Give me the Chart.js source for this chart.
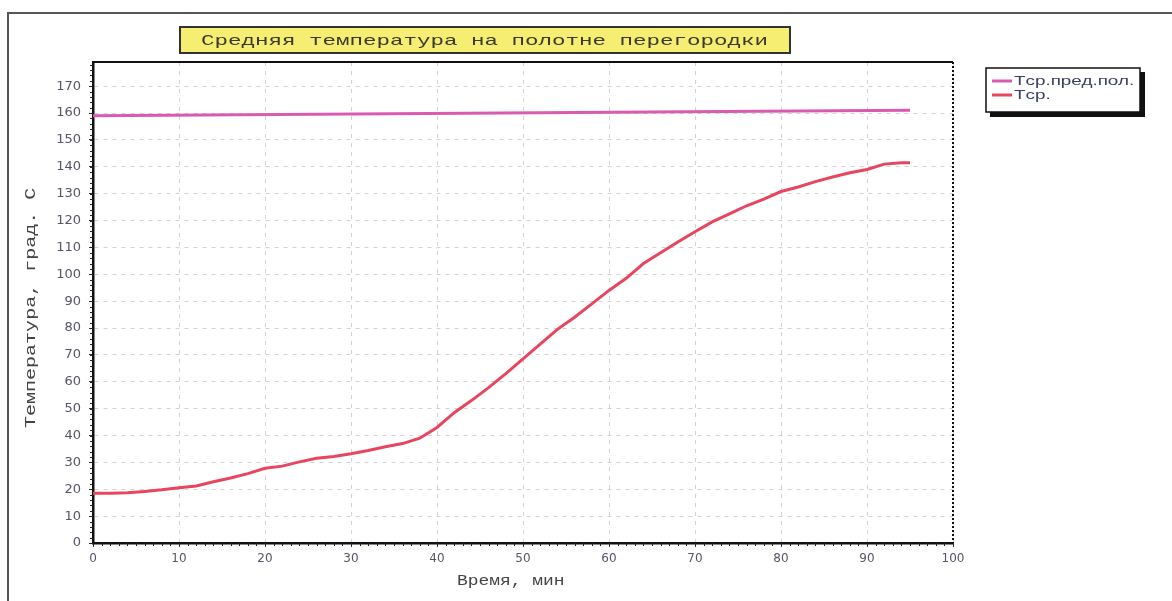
<!DOCTYPE html>
<html>
<head>
<meta charset="utf-8">
<script src="https://cdn.jsdelivr.net/npm/chart.js@4/dist/chart.umd.min.js"></script>
<style>
html, body { margin: 0; padding: 0; background: #fff; }
#wrap { width: 1172px; height: 601px; position: relative; }
</style>
</head>
<body>
<div id="wrap"><canvas id="myChart" width="1172" height="601"></canvas></div>
<script>
// время, мин
const timeLimit = [0, 95];
const tempLimit = [159, 161];

const timeAvg = [0, 2, 4, 6, 8, 10, 12, 14, 16, 18, 20, 22, 24, 26, 28, 30, 32, 34, 36, 38,
    40, 42, 44, 46, 48, 50, 52, 54, 56, 58, 60, 62, 64, 66, 68, 70, 72, 74, 76, 78,
    80, 82, 84, 86, 88, 90, 92, 94, 95];
const tempAvg = [18.5, 18.5, 18.7, 19.2, 19.8, 20.6, 21.2, 22.8, 24.2, 25.8, 27.8, 28.6, 30.2, 31.5, 32.2, 33.2, 34.4, 35.8, 37.0, 39.0,
    43.0, 48.5, 53.0, 57.8, 63.0, 68.5, 74.0, 79.5, 84.0, 89.0, 94.0, 98.5, 104.0, 108.0, 112.0, 115.8, 119.5, 122.5, 125.5, 128.0,
    130.8, 132.5, 134.5, 136.2, 137.8, 139.0, 141.0, 141.5, 141.5];

const seriesNames = ['Tср.пред.пол.', 'Tср.'];
const chartTitle = 'Средняя температура на полотне перегородки';
const xTitle = 'Время, мин';
const yTitle = 'Температура, град. С';

const pink = '#d95bb0';
const red = '#e8465e';

function pts(xs, ys) {
    return xs.map((x, i) => ({x: x, y: ys[i]}));
}

function stretchText(ctx, text, x, y, sx) {
    ctx.save();
    ctx.translate(x, y);
    ctx.scale(sx, 1);
    ctx.fillText(text, 0, 0);
    ctx.restore();
}

const decor = {
    id: 'decor',
    beforeDraw(chart) {
        const c = chart.ctx;
        c.save();
        c.fillStyle = '#fff';
        c.fillRect(0, 0, chart.width, chart.height);
        // outer frame
        c.strokeStyle = '#555';
        c.lineWidth = 2;
        c.beginPath();
        c.moveTo(8, 601);
        c.lineTo(8, 13);
        c.lineTo(1172, 13);
        c.stroke();
        c.restore();
    },
    afterDraw(chart) {
        const c = chart.ctx;
        const a = chart.chartArea;
        const xs = chart.scales.x, ys = chart.scales.y;
        c.save();
        // top border and dotted right border
        c.strokeStyle = '#111';
        c.lineWidth = 2;
        c.beginPath();
        c.moveTo(a.left, a.top);
        c.lineTo(a.right, a.top);
        c.stroke();
        c.setLineDash([2, 2]);
        c.beginPath();
        c.moveTo(a.right, a.top);
        c.lineTo(a.right, a.bottom);
        c.stroke();
        c.setLineDash([]);
        // minor ticks
        c.lineWidth = 1;
        c.strokeStyle = '#222';
        c.beginPath();
        for (let v = 0; v <= 100; v++) {
            const px = Math.round(xs.getPixelForValue(v)) + 0.5;
            c.moveTo(px, a.bottom);
            c.lineTo(px, a.bottom + 3);
        }
        for (let v = 0; v <= 178; v += 2) {
            const py = Math.round(ys.getPixelForValue(v)) + 0.5;
            c.moveTo(a.left - 3, py);
            c.lineTo(a.left, py);
        }
        c.stroke();

        // title box
        c.fillStyle = '#f6ee72';
        c.fillRect(180, 27, 610, 26);
        c.strokeStyle = '#333';
        c.lineWidth = 2;
        c.strokeRect(180, 27, 610, 26);
        c.fillStyle = '#3a3a2a';
        c.font = '15px "Liberation Mono"';
        c.textBaseline = 'middle';
        stretchText(c, chartTitle, 201, 41, 1.5);

        // axis titles
        c.fillStyle = '#444';
        c.font = '14px "Liberation Mono"';
        stretchText(c, xTitle, 457, 581, 1.28);
        c.save();
        c.translate(31, 428);
        c.rotate(-Math.PI / 2);
        c.font = '14px "Liberation Mono"';
        stretchText(c, yTitle, 0, 0, 1.43);
        c.restore();

        // legend
        c.fillStyle = '#111';
        c.fillRect(990, 72, 155, 45);
        c.fillStyle = '#fff';
        c.fillRect(986, 68, 154, 44);
        c.strokeStyle = '#111';
        c.lineWidth = 1.5;
        c.strokeRect(986, 68, 154, 44);
        c.font = '13px "Liberation Sans"';
        c.textBaseline = 'middle';
        [pink, red].forEach((col, i) => {
            const y = 81 + i * 14;
            c.strokeStyle = col;
            c.lineWidth = 3;
            c.beginPath();
            c.moveTo(992, y);
            c.lineTo(1012, y);
            c.stroke();
            c.fillStyle = '#3a3f66';
            stretchText(c, seriesNames[i], 1014, y, 1.45);
        });
        c.restore();
    }
};

const ctx = document.getElementById('myChart').getContext('2d');
const myChart = new Chart(ctx, {
    type: 'line',
    data: {
        datasets: [{
            label: seriesNames[0],
            data: pts(timeLimit, tempLimit),
            borderColor: pink,
            borderWidth: 3,
            pointRadius: 0,
            tension: 0
        }, {
            label: seriesNames[1],
            data: pts(timeAvg, tempAvg),
            borderColor: red,
            borderWidth: 3,
            pointRadius: 0,
            tension: 0
        }]
    },
    options: {
        responsive: false,
        animation: false,
        layout: {
            padding: {left: 0, top: 62, right: 219, bottom: 0}
        },
        plugins: {
            legend: {display: false},
            title: {display: false},
            tooltip: {enabled: false}
        },
        scales: {
            x: {
                type: 'linear',
                min: 0,
                max: 100,
                afterFit(scale) { scale.height = 58; },
                ticks: {
                    stepSize: 10,
                    color: '#556',
                    padding: 5,
                    maxRotation: 0,
                    font: {family: 'DejaVu Sans', size: 12}
                },
                grid: {
                    color: '#d2d2d2',
                    lineWidth: 1,
                    tickLength: 4,
                    tickColor: '#333'
                },
                border: {color: '#111', width: 2.5, dash: [4, 5]}
            },
            y: {
                min: 0,
                max: 179,
                afterFit(scale) { scale.width = 93; },
                ticks: {
                    stepSize: 10,
                    includeBounds: false,
                    color: '#556',
                    padding: 8,
                    font: {family: 'DejaVu Sans', size: 13}
                },
                grid: {
                    color: '#d2d2d2',
                    lineWidth: 1,
                    tickLength: 4,
                    tickColor: '#333'
                },
                border: {color: '#111', width: 2.5, dash: [4, 5]}
            }
        }
    },
    plugins: [decor]
});
</script>
</body>
</html>
